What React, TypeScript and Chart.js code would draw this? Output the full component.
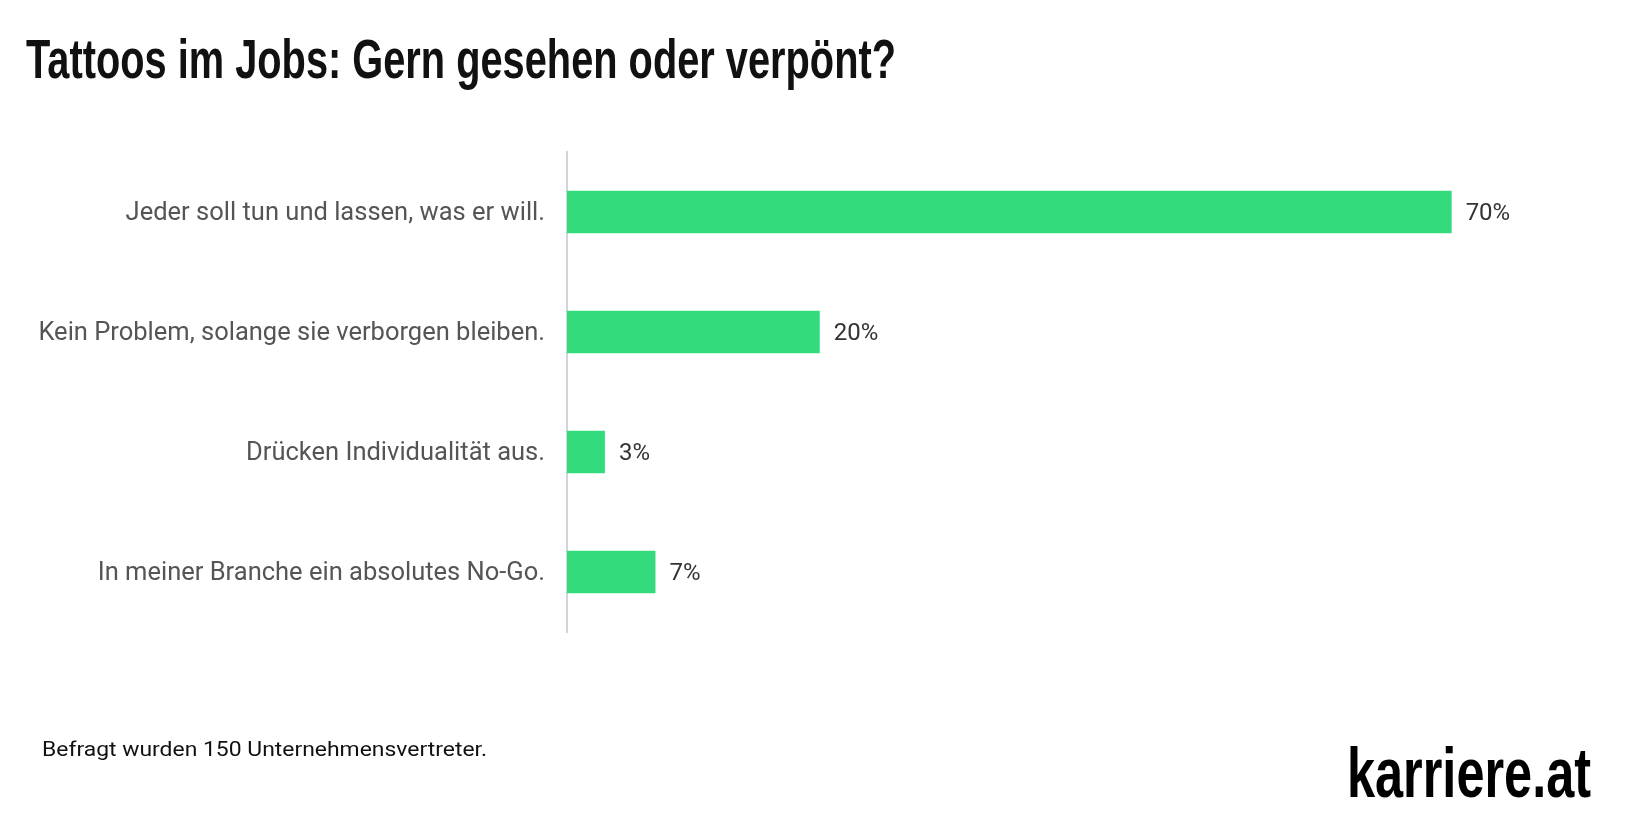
import React, { useEffect, useLayoutEffect, useRef } from 'react';
import { Chart, registerables } from 'chart.js';

Chart.register(...registerables);

const categories = [
  'Jeder soll tun und lassen, was er will.',
  'Kein Problem, solange sie verborgen bleiben.',
  'Drücken Individualität aus.',
  'In meiner Branche ein absolutes No-Go.',
];
const values = [70, 20, 3, 7];
const valueLabels = ['70%', '20%', '3%', '7%'];
const titleText = 'Tattoos im Jobs: Gern gesehen oder verpönt?';
const footnote = 'Befragt wurden 150 Unternehmensvertreter.';
const brand = 'karriere.at';

const BAR_COLOR = '#34db7d';
const LABEL_FONT = 'Roboto';

function FitText(props: { text: string; left: number; top: number; width: number; style: React.CSSProperties }) {
  const ref = useRef<HTMLDivElement | null>(null);
  useLayoutEffect(() => {
    const el = ref.current;
    if (!el) return;
    el.style.transform = 'none';
    const w = el.getBoundingClientRect().width;
    if (w > 0) el.style.transform = `scaleX(${props.width / w})`;
  });
  return (
    <div
      ref={ref}
      style={{
        position: 'absolute',
        left: props.left,
        top: props.top,
        whiteSpace: 'nowrap',
        transformOrigin: 'left top',
        ...props.style,
      }}
    >
      {props.text}
    </div>
  );
}

const valueLabelPlugin = {
  id: 'valueLabels',
  afterDatasetsDraw(chart: any) {
    const ctx = chart.ctx;
    const meta = chart.getDatasetMeta(0);
    ctx.save();
    ctx.font = `24px ${LABEL_FONT}`;
    ctx.fillStyle = '#333333';
    ctx.textAlign = 'left';
    ctx.textBaseline = 'middle';
    meta.data.forEach((el: any, i: number) => {
      ctx.fillText(valueLabels[i], el.x + 14, el.y + 2);
    });
    ctx.restore();
  },
};

export default function App() {
  const canvasRef = useRef<HTMLCanvasElement | null>(null);

  useEffect(() => {
    document.body.style.margin = '0';
    const canvas = canvasRef.current;
    if (!canvas) return;
    const chart = new Chart(canvas, {
      type: 'bar',
      data: {
        labels: categories,
        datasets: [
          {
            data: values,
            backgroundColor: BAR_COLOR,
            borderWidth: 0,
            barPercentage: 0.355,
            categoryPercentage: 1,
          },
        ],
      },
      options: {
        indexAxis: 'y',
        animation: false,
        responsive: false,
        maintainAspectRatio: false,
        layout: { padding: { left: 0, right: 55, top: 152, bottom: 206 } },
        plugins: {
          legend: { display: false },
          tooltip: { enabled: false },
          title: { display: false },
        },
        scales: {
          x: { display: false, min: 0, max: 80 },
          y: {
            afterFit: (scale: any) => {
              scale.width = 567;
            },
            grid: { display: false, drawTicks: false },
            border: { display: true, color: '#d4d4d4', width: 2 },
            ticks: {
              padding: 22,
              labelOffset: 2,
              color: '#555555',
              font: { family: LABEL_FONT, size: 25.5 },
            },
          },
        },
      },
      plugins: [valueLabelPlugin],
    });
    return () => chart.destroy();
  }, []);

  return (
    <div style={{ position: 'relative', width: 1633, height: 838, background: '#ffffff', overflow: 'hidden' }}>
      <canvas ref={canvasRef} width={1633} height={838} style={{ position: 'absolute', left: 0, top: 0 }} />
      <FitText
        text={titleText}
        left={26}
        top={31}
        width={870}
        style={{ fontFamily: '"Liberation Sans Narrow", sans-serif', fontWeight: 700, fontSize: 56, lineHeight: '56px', color: '#111111' }}
      />
      <FitText
        text={footnote}
        left={42}
        top={739}
        width={445}
        style={{ fontFamily: LABEL_FONT, fontSize: 20, lineHeight: '20px', color: '#111111' }}
      />
      <FitText
        text={brand}
        left={1347}
        top={738}
        width={244}
        style={{ fontFamily: '"Liberation Sans Narrow", sans-serif', fontWeight: 700, fontSize: 70, lineHeight: '70px', color: '#000000' }}
      />
    </div>
  );
}
